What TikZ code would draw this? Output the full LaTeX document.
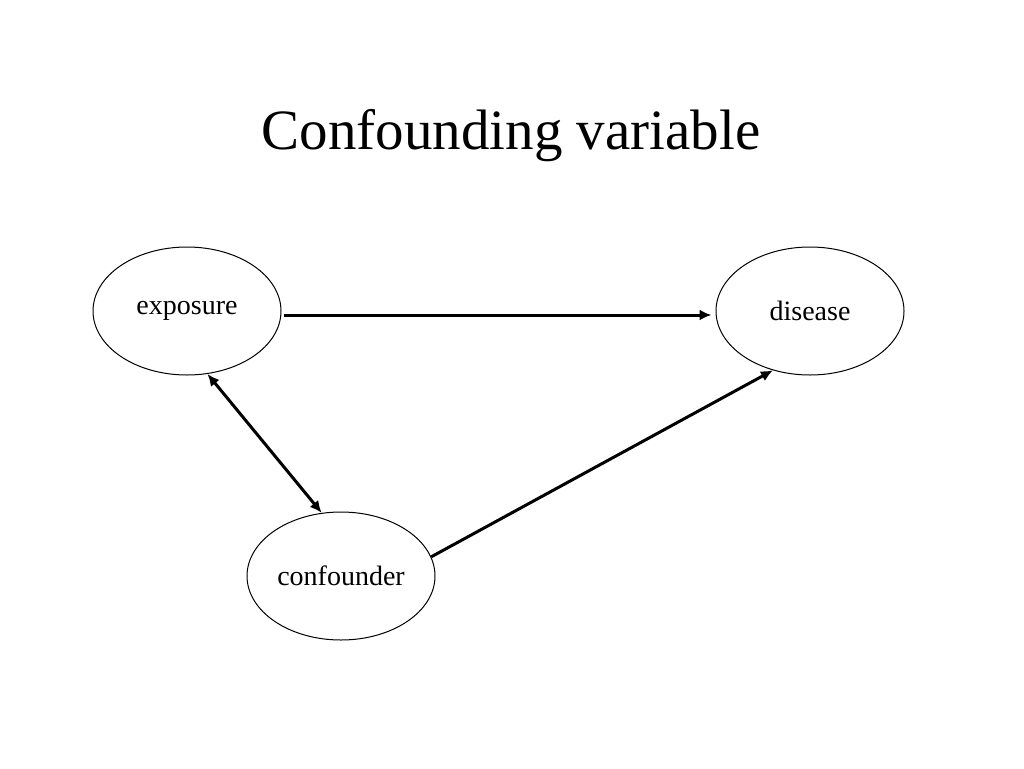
\documentclass[tikz,border=0pt]{standalone}
\usepackage{fontspec}
\setmainfont{Liberation Serif}
\usetikzlibrary{arrows.meta,shapes.geometric}
\begin{document}
\begin{tikzpicture}[x=1pt,y=-1pt,
  ell/.style={draw,ellipse,minimum width=188pt,minimum height=128pt,inner sep=0pt,line width=1pt,font=\fontsize{28}{32}\selectfont},
  arr/.style={line width=3pt,-{Latex[length=12pt,width=11pt]}}]
\useasboundingbox (0,0) rectangle (1024,768);
\node (title) at (511,136) {\fontsize{57}{64}\selectfont Confounding variable};
\node[ell] (exp) at (187,311) {exposure};
\node[ell] (dis) at (810,311) {disease};
\node[ell] (con) at (341,576) {confounder};
\draw[arr] ([yshift=-4pt,xshift=2pt]exp.east) -- ([yshift=-4pt,xshift=-4pt]dis.west);
\draw[line width=3pt,{Latex[length=12pt,width=11pt]}-{Latex[length=12pt,width=11pt]}] (exp.-72) -- (con.107);
\draw[arr] (con.12) -- (dis.-122);
\end{tikzpicture}
\end{document}
